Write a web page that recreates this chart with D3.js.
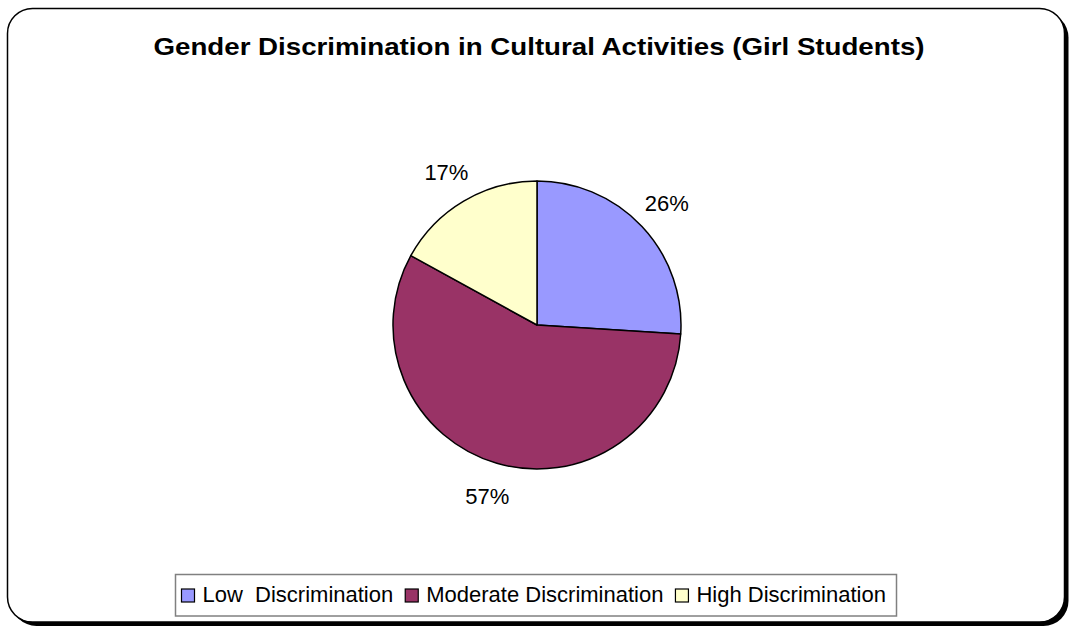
<!DOCTYPE html>
<html>
<head>
<meta charset="utf-8">
<script src="https://cdn.jsdelivr.net/npm/d3@7/dist/d3.min.js"></script>
<style>
  html, body { margin: 0; padding: 0; background: #fff; }
  svg { display: block; }
  text { font-family: "Liberation Sans", Arial, sans-serif; fill: #000; }
</style>
</head>
<body>
<svg id="chart" width="1070" height="629"></svg>
<script>
// Survey shares (percent) of girl students by perceived level of discrimination
const categories = ["Low  Discrimination", "Moderate Discrimination", "High Discrimination"];
const values = [26, 57, 17];
const colors = ["#9999FF", "#993366", "#FFFFCC"];
const titleText = "Gender Discrimination in Cultural Activities (Girl Students)";

const svg = d3.select("#chart");
const W = 1070, H = 629;

// Chart area frame with drop shadow
const frame = { x: 7.5, y: 8.5, w: 1057, h: 613.5, r: 25 };
svg.append("rect")
  .attr("x", frame.x + 4).attr("y", frame.y + 4)
  .attr("width", frame.w).attr("height", frame.h)
  .attr("rx", frame.r).attr("ry", frame.r)
  .attr("fill", "#000");
svg.append("rect")
  .attr("x", frame.x).attr("y", frame.y)
  .attr("width", frame.w).attr("height", frame.h)
  .attr("rx", frame.r).attr("ry", frame.r)
  .attr("fill", "#fff").attr("stroke", "#000").attr("stroke-width", 1.5);

// Title
svg.append("text")
  .attr("x", 539).attr("y", 55)
  .attr("text-anchor", "middle")
  .attr("font-size", 24).attr("font-weight", "bold")
  .attr("textLength", 771).attr("lengthAdjust", "spacingAndGlyphs")
  .text(titleText);

// Pie
const cx = 537, cy = 325, radius = 144;
const data = categories.map((c, i) => ({ name: c, value: values[i], color: colors[i] }));
const pie = d3.pie().value(d => d.value).sort(null);
const arcs = pie(data);
const arc = d3.arc().innerRadius(0).outerRadius(radius);
const labelArc = d3.arc().innerRadius(178).outerRadius(178);

const g = svg.append("g").attr("transform", `translate(${cx},${cy})`);
g.selectAll("path.slice")
  .data(arcs)
  .enter().append("path")
  .attr("class", "slice")
  .attr("d", arc)
  .attr("fill", d => d.data.color)
  .attr("stroke", "#000")
  .attr("stroke-width", 1.5)
  .attr("stroke-linejoin", "round");

g.selectAll("text.pct")
  .data(arcs)
  .enter().append("text")
  .attr("class", "pct")
  .attr("transform", d => {
    const [x, y] = labelArc.centroid(d);
    return `translate(${x},${y})`;
  })
  .attr("text-anchor", "middle")
  .attr("dy", "0.36em")
  .attr("font-size", 22)
  .text(d => d3.format(".0f")(d.data.value) + "%");

// Legend
const legend = { x: 175.5, y: 574.5, w: 721, h: 41.5 };
svg.append("rect")
  .attr("x", legend.x).attr("y", legend.y)
  .attr("width", legend.w).attr("height", legend.h)
  .attr("fill", "#fff").attr("stroke", "#808080").attr("stroke-width", 1.5);

const lg = svg.append("g");
let lx = legend.x + 6;
const sw = 13;
data.forEach(d => {
  lg.append("rect")
    .attr("x", lx).attr("y", 589)
    .attr("width", sw).attr("height", sw)
    .attr("fill", d.color).attr("stroke", "#000").attr("stroke-width", 1.2);
  const t = lg.append("text")
    .attr("x", lx + sw + 8).attr("y", 602)
    .attr("font-size", 22)
    .attr("xml:space", "preserve")
    .style("white-space", "pre")
    .text(d.name);
  lx += sw + 8 + t.node().getComputedTextLength() + 12;
});
</script>
</body>
</html>
